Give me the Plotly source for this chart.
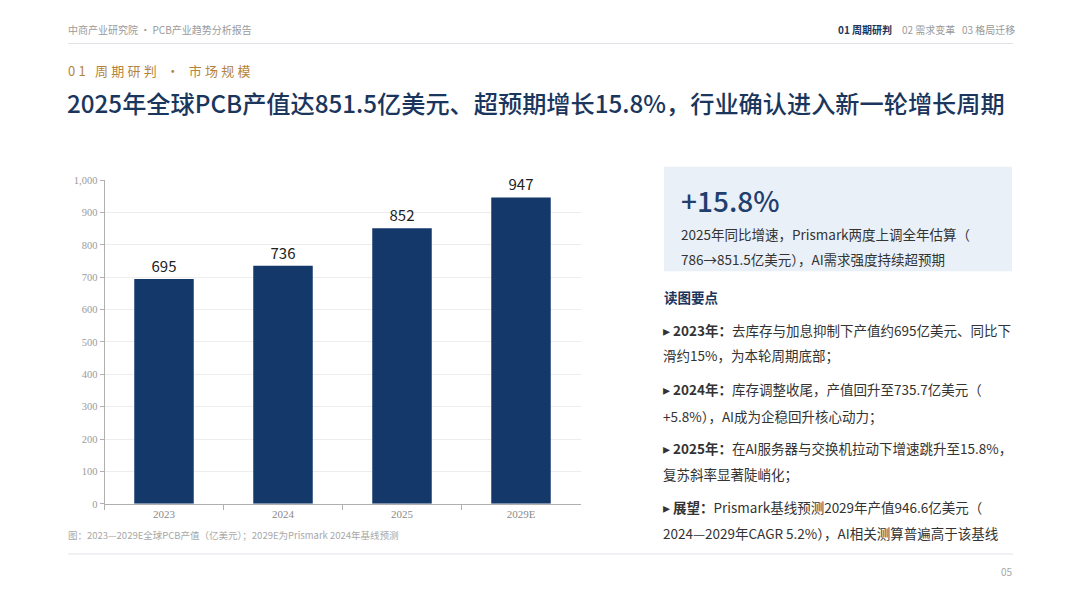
import plotly.graph_objects as go

# ---- data ----
categories = ["2023", "2024", "2025", "2029E"]
values = [695, 735.7, 851.5, 946.6]
y_ticks = [0, 100, 200, 300, 400, 500, 600, 700, 800, 900, 1000]
y_tick_labels = ["0", "100", "200", "300", "400", "500", "600", "700", "800", "900", "1,000"]

header_left = "中商产业研究院 · PCB产业趋势分析报告"
nav_items = ["01 周期研判", "02 需求变革", "03 格局迁移"]
section = "01 周期研判 · 市场规模"
title = "2025年全球PCB产值达851.5亿美元、超预期增长15.8%，行业确认进入新一轮增长周期"
caption = "图：2023—2029E全球PCB产值（亿美元）；2029E为Prismark 2024年基线预测"
kpi = "+15.8%"
kpi_lines = ["2025年同比增速，Prismark两度上调全年估算（",
             "786→851.5亿美元），AI需求强度持续超预期"]
points_title = "读图要点"
bullets = [
    ("2023年：", ["去库存与加息抑制下产值约695亿美元、同比下", "滑约15%，为本轮周期底部；"]),
    ("2024年：", ["库存调整收尾，产值回升至735.7亿美元（", "+5.8%），AI成为企稳回升核心动力；"]),
    ("2025年：", ["在AI服务器与交换机拉动下增速跳升至15.8%，", "复苏斜率显著陡峭化；"]),
    ("展望：", ["Prismark基线预测2029年产值946.6亿美元（", "2024—2029年CAGR 5.2%），AI相关测算普遍高于该基线"]),
]
page_no = "05"

W, H = 1080, 608
CJK = "Noto Sans CJK SC"
NAVY = "#1b365d"
BAR = "#15386b"


def px(x):
    return x / W


def py(y):
    # vertical placement in page pixels (compensated for viewer framing)
    y = (y - 6.65) / 0.979
    return 1 - y / H


fig = go.Figure()
fig.add_trace(go.Bar(
    x=categories, y=values, width=0.5,
    marker=dict(color=BAR, line=dict(width=0)),
    texttemplate="%{y:.0f}", textposition="outside",
    textfont=dict(family=CJK, size=15, color="#222222"),
    cliponaxis=False, hoverinfo="skip",
))

annotations = []


def txt(x, y, text, size, color, xanchor="left", weight=None, family=CJK):
    f = dict(family=family, size=size, color=color)
    if weight:
        f["weight"] = weight
    annotations.append(dict(x=px(x), y=py(y), xref="paper", yref="paper", text=text,
                            showarrow=False, xanchor=xanchor, yanchor="middle",
                            font=f, align="left"))


# header
txt(66, 31, header_left, 10, "#9a9a9a")
txt(836, 31, nav_items[0], 10, NAVY, weight="bold")
txt(900, 31, nav_items[1], 10, "#9a9a9a")
txt(960, 31, nav_items[2], 10, "#9a9a9a")

# section label with letter spacing
spaced = "\u2005".join(list(section))
txt(66, 72, spaced, 13, "#b5843a")
txt(65, 104, title, 24.2, NAVY, weight=500)

# caption
txt(66, 535, caption, 9.5, "#a8a8a8")

# KPI box
txt(679, 201, kpi, 28, "#1f3f6e", weight=500)
txt(679, 235, kpi_lines[0], 13.5, "#333333")
txt(679, 260, kpi_lines[1], 13.5, "#333333")

txt(662, 298, points_title, 13.5, NAVY, weight="bold")
ys = [(331, 356), (390, 416), (448, 474), (507, 533)]
for (lab, lines), (y1, y2) in zip(bullets, ys):
    txt(661, y1, "▸ <b>" + lab + "</b>" + lines[0], 13.5, "#333333")
    txt(661, y2, lines[1], 13.5, "#333333")

txt(1015, 571, page_no, 10, "#a8a8a8", xanchor="right")

shapes = [
    dict(type="line", xref="paper", yref="paper", x0=px(68), x1=px(1013), y0=py(45), y1=py(45),
         line=dict(color="#dfe3e8", width=1)),
    dict(type="line", xref="paper", yref="paper", x0=px(68), x1=px(1013), y0=py(554), y1=py(554),
         line=dict(color="#dfe3e8", width=1)),
    dict(type="rect", xref="paper", yref="paper", x0=px(664), x1=px(1012), y0=py(272), y1=py(168),
         fillcolor="#eaf0f7", line=dict(width=0), layer="below"),
]

fig.update_layout(
    width=W, height=H, margin=dict(l=0, r=0, t=0, b=0),
    paper_bgcolor="white", plot_bgcolor="white",
    showlegend=False, annotations=annotations, shapes=shapes,
    xaxis=dict(domain=[px(104.5), px(580.5)], showline=True, linecolor="#b0b0b0", linewidth=1,
               ticks="outside", tickson="boundaries", ticklen=5, tickcolor="#b0b0b0",
               tickfont=dict(family="Liberation Serif", size=11, color="#8a8a8a"),
               showgrid=False, fixedrange=True),
    yaxis=dict(domain=[py(504), py(181.3)], range=[0, 1000], tickvals=y_ticks, ticktext=y_tick_labels,
               showline=True, linecolor="#b0b0b0", linewidth=1, ticks="outside", ticklen=4,
               tickcolor="#b0b0b0", showgrid=True, gridcolor="#ededed", zeroline=False,
               tickfont=dict(family="Liberation Serif", size=10.5, color="#9a9a9a"), fixedrange=True),
    font=dict(family=CJK),
)

fig.write_html("out.html", config=dict(displayModeBar=False),
               post_script="document.body.style.margin='0';document.body.style.overflow='hidden';")
